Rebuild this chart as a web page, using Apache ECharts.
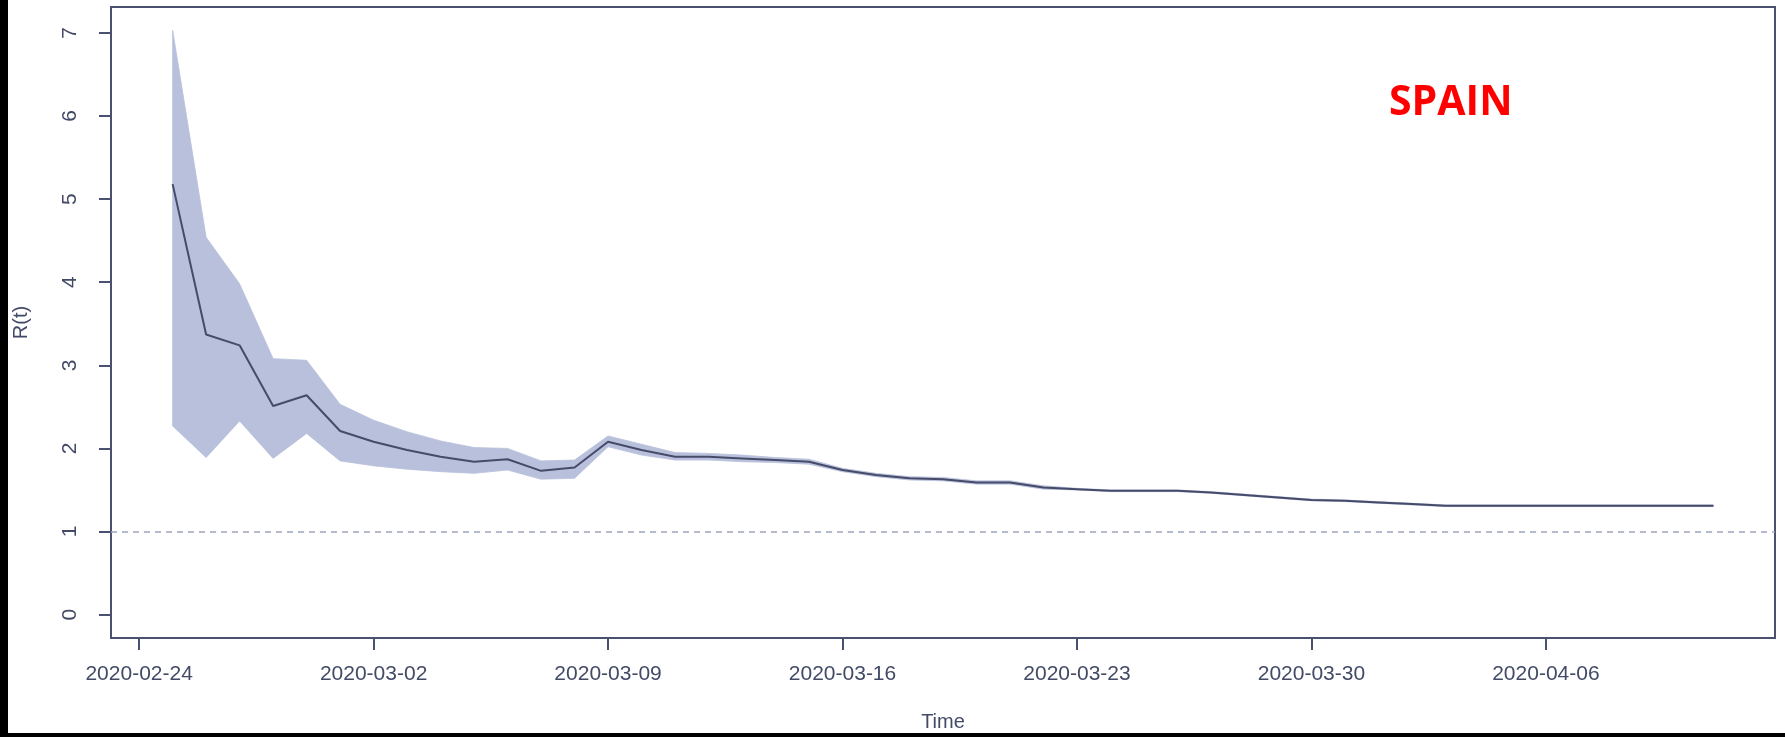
<!DOCTYPE html>
<html>
<head>
<meta charset="utf-8">
<title>R(t) – Spain</title>
<script src="https://cdn.jsdelivr.net/npm/echarts@6/dist/echarts.min.js"></script>
<style>
  html, body { margin: 0; padding: 0; background: #ffffff; }
  #chart { width: 1785px; height: 737px; }
</style>
</head>
<body>
<div id="chart"></div>
<script>
// Daily estimates of the reproduction number with its credible interval
const dates = [
  '2020-02-25','2020-02-26','2020-02-27','2020-02-28','2020-02-29',
  '2020-03-01','2020-03-02','2020-03-03','2020-03-04','2020-03-05','2020-03-06','2020-03-07',
  '2020-03-08','2020-03-09','2020-03-10','2020-03-11','2020-03-12','2020-03-13','2020-03-14',
  '2020-03-15','2020-03-16','2020-03-17','2020-03-18','2020-03-19','2020-03-20','2020-03-21',
  '2020-03-22','2020-03-23','2020-03-24','2020-03-25','2020-03-26','2020-03-27','2020-03-28',
  '2020-03-29','2020-03-30','2020-03-31','2020-04-01','2020-04-02','2020-04-03','2020-04-04',
  '2020-04-05','2020-04-06','2020-04-07','2020-04-08','2020-04-09','2020-04-10','2020-04-11'
];
const rMean = [
  5.18, 3.37, 3.24, 2.51, 2.64,
  2.21, 2.08, 1.98, 1.90, 1.84, 1.87, 1.73,
  1.77, 2.08, 1.98, 1.90, 1.90, 1.88, 1.86,
  1.84, 1.74, 1.68, 1.64, 1.63, 1.59, 1.59,
  1.53, 1.51, 1.49, 1.49, 1.49, 1.47, 1.44,
  1.41, 1.38, 1.37, 1.35, 1.33, 1.31, 1.31,
  1.31, 1.31, 1.31, 1.31, 1.31, 1.31, 1.31
];
const rUpper = [
  7.03, 4.54, 3.98, 3.08, 3.06,
  2.53, 2.34, 2.20, 2.09, 2.01, 2.00, 1.85,
  1.86, 2.15, 2.05, 1.95, 1.94, 1.92, 1.89,
  1.87, 1.76, 1.70, 1.66, 1.65, 1.61, 1.61,
  1.55, 1.52, 1.50, 1.50, 1.50, 1.48, 1.45,
  1.42, 1.39, 1.38, 1.36, 1.34, 1.32, 1.32,
  1.32, 1.32, 1.32, 1.32, 1.32, 1.32, 1.32
];
const rLower = [
  2.27, 1.89, 2.33, 1.88, 2.18,
  1.85, 1.79, 1.75, 1.72, 1.70, 1.74, 1.63,
  1.64, 2.02, 1.92, 1.86, 1.86, 1.84, 1.83,
  1.81, 1.72, 1.66, 1.62, 1.61, 1.57, 1.57,
  1.51, 1.50, 1.48, 1.48, 1.48, 1.46, 1.43,
  1.40, 1.37, 1.36, 1.34, 1.32, 1.30, 1.30,
  1.30, 1.30, 1.30, 1.30, 1.30, 1.30, 1.30
];
const xTickDates = ['2020-02-24','2020-03-02','2020-03-09','2020-03-16','2020-03-23','2020-03-30','2020-04-06'];
const yTicks = [0, 1, 2, 3, 4, 5, 6, 7];
const threshold = 1;
const countryLabel = 'SPAIN';

function toTime(s) {
  const p = s.split('-').map(Number);
  return new Date(p[0], p[1] - 1, p[2]).getTime();
}
function pad(n) { return n < 10 ? '0' + n : '' + n; }
function fmtDate(v) {
  const d = new Date(v);
  return d.getFullYear() + '-' + pad(d.getMonth() + 1) + '-' + pad(d.getDate());
}

const times = dates.map(toTime);
const meanData = times.map((t, i) => [t, rMean[i]]);
const xTicks = xTickDates.map(toTime);

// axis ranges padded like base graphics (4% on each side)
const xSpan = times[times.length - 1] - times[0];
const xMin = times[0] - 0.04 * xSpan;
const xMax = times[times.length - 1] + 0.04 * xSpan;
const yLo = 0, yHi = 7.03;
const yMin = yLo - 0.04 * (yHi - yLo);
const yMax = yHi + 0.04 * (yHi - yLo);

const inkColor = '#4a5170';
const textColor = '#434a66';
const fontFamily = '"Liberation Sans", Arial, sans-serif';

// credible interval drawn as one polygon: upper edge forwards, lower edge backwards
function renderBand(params, api) {
  const pts = [];
  for (let i = 0; i < times.length; i++) pts.push(api.coord([times[i], rUpper[i]]));
  for (let i = times.length - 1; i >= 0; i--) pts.push(api.coord([times[i], rLower[i]]));
  return {
    type: 'polygon',
    shape: { points: pts },
    style: { fill: '#b8c0dc', stroke: '#b8c0dc', lineWidth: 0.8 }
  };
}

const chart = echarts.init(document.getElementById('chart'), null, { renderer: 'canvas' });
chart.setOption({
  animation: false,
  backgroundColor: '#ffffff',
  grid: {
    left: 111, right: 10, top: 7, bottom: 98,
    show: true,
    borderColor: inkColor,
    borderWidth: 2,
    backgroundColor: 'transparent'
  },
  xAxis: {
    type: 'value',
    min: xMin,
    max: xMax,
    name: 'Time',
    nameLocation: 'middle',
    nameGap: 74,
    nameTextStyle: { color: textColor, fontSize: 20, fontFamily: fontFamily },
    axisLine: { show: true, onZero: false, lineStyle: { color: inkColor, width: 2 } },
    axisTick: { show: true, customValues: xTicks, length: 12, lineStyle: { color: inkColor, width: 2 } },
    axisLabel: {
      show: true, customValues: xTicks, margin: 26,
      formatter: fmtDate,
      color: textColor, fontSize: 21, fontFamily: fontFamily
    },
    splitLine: { show: false }
  },
  yAxis: {
    type: 'value',
    min: yMin,
    max: yMax,
    name: 'R(t)',
    nameLocation: 'middle',
    nameRotate: 90,
    nameGap: 80,
    nameTextStyle: { color: textColor, fontSize: 20, fontFamily: fontFamily },
    axisLine: { show: true, onZero: false, lineStyle: { color: inkColor, width: 2 } },
    axisTick: { show: true, customValues: yTicks, length: 12, lineStyle: { color: inkColor, width: 2 } },
    axisLabel: {
      show: true, customValues: yTicks, rotate: 90, margin: 30,
      color: textColor, fontSize: 21, fontFamily: fontFamily
    },
    splitLine: { show: false }
  },
  graphic: [
    { type: 'rect', left: 0, top: 0, shape: { width: 8, height: 737 }, style: { fill: '#000000' }, z: 100 },
    { type: 'rect', left: 0, top: 733, shape: { width: 1785, height: 4 }, style: { fill: '#000000' }, z: 100 },
    {
      type: 'text', left: 1389, top: 83, z: 100,
      style: {
        text: countryLabel, fill: '#ff0000',
        font: 'bold 41px "Open Sans", "Noto Sans", sans-serif'
      }
    }
  ],
  series: [
    {
      name: 'interval',
      type: 'custom',
      renderItem: renderBand,
      data: [[times[0], rUpper[0]]],
      silent: true,
      z: 2
    },
    {
      name: 'mean',
      type: 'line',
      data: meanData,
      symbol: 'none',
      lineStyle: { color: '#454b68', width: 2 },
      z: 5,
      markLine: {
        silent: true,
        symbol: 'none',
        label: { show: false },
        lineStyle: { color: '#9ea4bc', width: 1.5, type: [6, 5] },
        data: [{ yAxis: threshold }]
      }
    }
  ]
});
</script>
</body>
</html>
